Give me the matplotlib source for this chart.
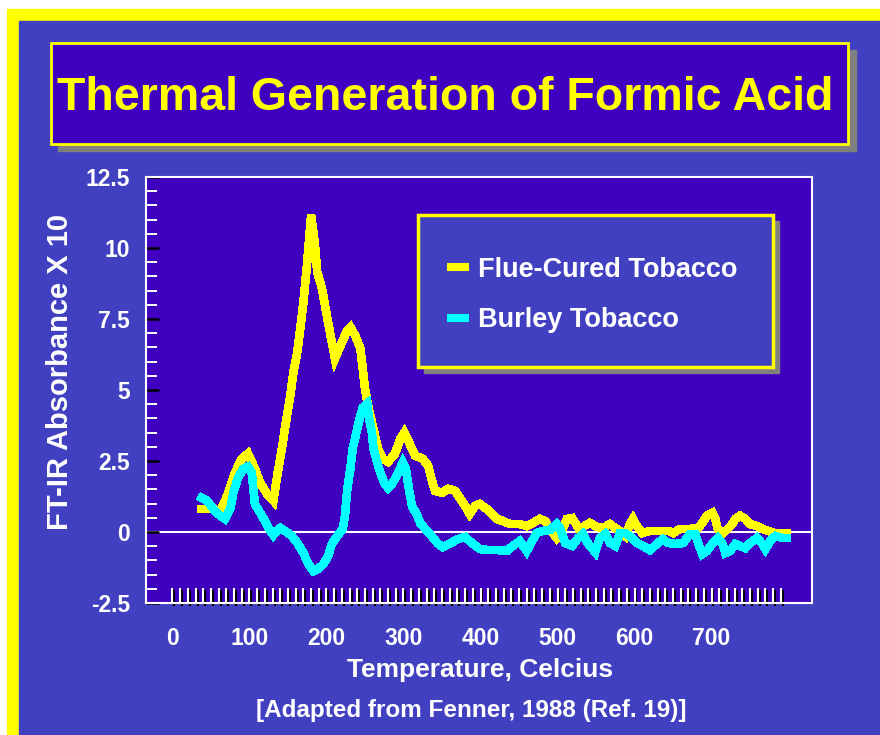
import matplotlib
matplotlib.use("Agg")
import matplotlib.pyplot as plt
from matplotlib.patches import Rectangle
from matplotlib import patheffects
from matplotlib.ticker import FixedLocator, MultipleLocator, FormatStrFormatter

plt.rcParams['font.family'] = ['Liberation Sans', 'DejaVu Sans']
plt.rcParams['font.weight'] = 'bold'
plt.rcParams['axes.unicode_minus'] = False

# Flue-cured tobacco (deg C, absorbance x10)
flue_temp = [38, 53, 62, 71, 81, 90, 98, 107, 114, 123,
             131, 136, 142, 146, 153, 157, 162, 166, 170, 175,
             180, 185, 188, 194, 198, 202, 207, 211, 220, 227,
             231, 237, 244, 247, 250, 254, 259, 263, 267, 273,
             280, 289, 296, 301, 308, 315, 325, 332, 337, 341,
             350, 358, 367, 373, 380, 386, 393, 399, 408, 415,
             421, 429, 438, 451, 460, 468, 477, 484, 488, 494,
             499, 506, 512, 519, 523, 527, 533, 542, 551, 559,
             568, 575, 581, 588, 594, 598, 603, 610, 620, 633,
             644, 650, 659, 672, 683, 688, 694, 701, 705, 708,
             715, 721, 727, 731, 737, 744, 750, 759, 766, 773,
             783, 798]
flue_abs = [0.81, 0.81, 0.74, 1.27, 2.08, 2.58, 2.76, 2.23, 1.73, 1.34,
            1.10, 1.98, 2.93, 3.64, 4.81, 5.62, 6.33, 7.17, 8.09, 9.51,
            11.17, 10.11, 9.15, 8.59, 7.99, 7.39, 6.68, 6.11, 6.68, 7.10,
            7.21, 6.93, 6.47, 5.76, 5.05, 4.45, 3.85, 3.39, 2.93, 2.58,
            2.47, 2.76, 3.29, 3.50, 3.11, 2.69, 2.58, 2.33, 1.80, 1.45,
            1.38, 1.52, 1.45, 1.20, 0.92, 0.64, 0.92, 0.99, 0.81, 0.64,
            0.46, 0.39, 0.28, 0.28, 0.21, 0.32, 0.46, 0.39, 0.21, -0.04,
            -0.21, 0.04, 0.46, 0.49, 0.32, 0.14, 0.18, 0.32, 0.18, 0.14,
            0.28, 0.14, 0.04, -0.14, 0.28, 0.46, 0.21, -0.04, 0.04, 0.04,
            0.04, -0.04, 0.11, 0.11, 0.14, 0.32, 0.57, 0.67, 0.46, 0.11,
            -0.04, 0.11, 0.28, 0.46, 0.57, 0.46, 0.28, 0.21, 0.11, 0.04,
            -0.04, -0.04]

# Burley tobacco
burley_temp = [38, 45, 53, 62, 68, 75, 79, 85, 92, 98,
               103, 105, 107, 114, 120, 127, 131, 136, 140, 146,
               155, 163, 170, 176, 183, 189, 196, 202, 207, 214,
               221, 224, 227, 231, 234, 240, 244, 247, 253, 255,
               259, 261, 266, 270, 275, 280, 286, 293, 299, 303,
               307, 311, 318, 322, 332, 344, 351, 360, 370, 380,
               389, 399, 412, 423, 434, 442, 451, 460, 467, 473,
               481, 490, 499, 503, 510, 519, 527, 533, 540, 549,
               555, 562, 568, 575, 581, 588, 597, 603, 611, 620,
               629, 637, 644, 653, 663, 672, 679, 683, 688, 694,
               701, 708, 714, 718, 724, 731, 737, 744, 750, 759,
               766, 770, 776, 783, 792, 798]
burley_abs = [1.20, 1.10, 0.81, 0.57, 0.46, 0.81, 1.38, 1.91, 2.23, 2.30,
              2.08, 1.52, 0.99, 0.67, 0.39, 0.04, -0.11, 0.04, 0.14, 0.04,
              -0.14, -0.42, -0.74, -1.10, -1.38, -1.31, -1.13, -0.85, -0.42, -0.14,
              0.11, 0.57, 1.52, 2.23, 2.93, 3.64, 4.10, 4.38, 4.52, 4.03,
              3.50, 2.93, 2.44, 2.08, 1.73, 1.55, 1.73, 2.08, 2.44, 2.23,
              1.52, 0.92, 0.57, 0.30, 0.00, -0.39, -0.53, -0.42, -0.25, -0.18,
              -0.39, -0.60, -0.64, -0.64, -0.67, -0.49, -0.32, -0.67, -0.32, -0.04,
              0.04, 0.07, 0.28, 0.14, -0.39, -0.49, -0.21, -0.07, -0.42, -0.71,
              -0.21, -0.07, -0.39, -0.49, -0.04, -0.04, -0.21, -0.39, -0.49, -0.64,
              -0.42, -0.25, -0.39, -0.42, -0.39, -0.07, -0.07, -0.42, -0.78, -0.67,
              -0.42, -0.21, -0.39, -0.74, -0.67, -0.42, -0.49, -0.57, -0.39, -0.21,
              -0.42, -0.60, -0.32, -0.14, -0.21, -0.21]

x_labels = [0, 100, 200, 300, 400, 500, 600, 700]
x_minor = list(range(0, 791, 10))

W, H = 880, 735
def fx(px):
    return px / W
def fy(py):
    return 1 - py / H

YELLOW = '#FFFF00'
CYAN = '#00FFFF'
SLIDE = '#4040C0'
PANEL = '#4000C0'
SHADOW = '#808080'

fig = plt.figure(figsize=(8.8, 7.35), dpi=100, facecolor='white')

# slide border + background
fig.patches.append(Rectangle((fx(7), 0), 1, fy(9), transform=fig.transFigure,
                             color=YELLOW, zorder=-2))
fig.patches.append(Rectangle((fx(19), 0), 1, fy(21), transform=fig.transFigure,
                             color=SLIDE, zorder=-1))

# title box
fig.patches.append(Rectangle((fx(58), fy(151)), fx(856) - fx(58), fy(50) - fy(151),
                             transform=fig.transFigure, color=SHADOW, zorder=-1))
fig.patches.append(Rectangle((fx(51), fy(144)), fx(848) - fx(51), fy(43) - fy(144),
                             transform=fig.transFigure, facecolor=PANEL,
                             edgecolor=YELLOW, lw=2, zorder=-1))
fig.text(fx(445), fy(110), 'Thermal Generation of Formic Acid', color=YELLOW,
         fontsize=33.5, ha='center', va='baseline')

ax = fig.add_axes([fx(146), fy(603), fx(812) - fx(146), fy(177) - fy(603)])
ax.set_facecolor(PANEL)

ax.axhline(0, color='white', lw=1.5, zorder=1)
l1, = ax.plot(flue_temp, flue_abs, color=YELLOW, lw=5.5, zorder=2,
              solid_joinstyle='miter', antialiased=False, label='Flue-Cured Tobacco')
l2, = ax.plot(burley_temp, burley_abs, color=CYAN, lw=5.5, zorder=3,
              solid_joinstyle='miter', antialiased=False, label='Burley Tobacco')

ax.set_xlim(-34.4, 830.5)
ax.set_ylim(-2.5, 12.5)

for s in ax.spines.values():
    s.set_color('white')
    s.set_linewidth(1.5)

ax.xaxis.set_major_locator(FixedLocator(x_labels))
ax.xaxis.set_minor_locator(FixedLocator(x_minor))
ax.tick_params(axis='x', which='both', direction='in', length=11, width=1.5,
               color='white', labelcolor='white', labelsize=16.5, pad=17)
ax.yaxis.set_major_locator(MultipleLocator(2.5))
ax.yaxis.set_minor_locator(MultipleLocator(0.5))
ax.yaxis.set_major_formatter(FormatStrFormatter('%g'))
ax.tick_params(axis='y', which='major', direction='in', length=9.5, width=1.8,
               color='black', labelcolor='white', labelsize=16.5, pad=11.5)
ax.tick_params(axis='y', which='minor', direction='in', length=8, width=1.4,
               color='white')

shadow_fx = [patheffects.SimpleLineShadow(offset=(1.4, -2), shadow_color='black', alpha=1.0),
             patheffects.Normal()]
for t in ax.xaxis.get_major_ticks() + ax.xaxis.get_minor_ticks():
    t.tick1line.set_path_effects(shadow_fx)

fig.text(fx(60), fy(372), 'FT-IR Absorbance X 10', rotation=90, color='white',
         fontsize=21, ha='center', va='center')
fig.text(fx(480), fy(670), 'Temperature, Celcius', color='white',
         fontsize=19, ha='center', va='center')
fig.text(fx(471), fy(710), '[Adapted from Fenner, 1988 (Ref. 19)]', color='white',
         fontsize=17.5, ha='center', va='center')

# legend box
fig.patches.append(Rectangle((fx(424), fy(373)), fx(779) - fx(424), fy(221) - fy(373),
                             transform=fig.transFigure, color=SHADOW, zorder=1))
fig.patches.append(Rectangle((fx(418), fy(367)), fx(773) - fx(418), fy(215) - fy(367),
                             transform=fig.transFigure, facecolor=SLIDE,
                             edgecolor=YELLOW, lw=2.5, zorder=1))
leg = fig.legend(handles=[l1, l2], loc='center left',
                 bbox_to_anchor=(fx(447), fy(295)), frameon=False,
                 prop={'size': 19.5, 'weight': 'bold'}, labelcolor='white',
                 handlelength=0.8, handletextpad=0.35, labelspacing=0.92,
                 borderpad=0, borderaxespad=0)
leg.set_zorder(5)
for h in leg.legend_handles:
    h.set_linewidth(5.8)
    h.set_solid_capstyle('butt')

fig.savefig('out.png', dpi=100, facecolor=fig.get_facecolor())
